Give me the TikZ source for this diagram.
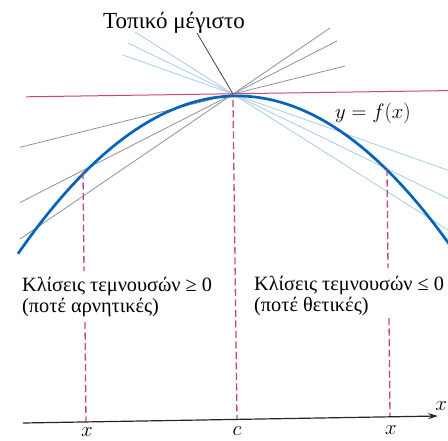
\documentclass[tikz,border=0pt]{standalone}
\usepackage{fontspec}
\setmainfont{Liberation Serif}
\usetikzlibrary{arrows.meta}
\definecolor{curveblue}{RGB}{5,100,185}
\definecolor{tanred}{RGB}{200,70,115}
\definecolor{dashred}{RGB}{195,70,120}
\definecolor{secgray}{RGB}{145,145,145}
\definecolor{secblue}{RGB}{165,205,232}
\begin{document}
\begin{tikzpicture}[x=1pt,y=-1pt,
  fcurve/.style={curveblue, line width=2.7pt},
  tangentline/.style={tanred, line width=1pt},
  secleft/.style={secgray, line width=0.8pt},
  secright/.style={secblue, line width=0.8pt},
  guide/.style={dashred, line width=1.3pt, dash pattern=on 7pt off 3.5pt},
  axisline/.style={black!85, line width=1.2pt, -{Stealth[length=10pt,width=6pt]}},
  leader/.style={black!75, line width=0.8pt},
  lbl/.style={font=\fontsize{20.3}{23}\selectfont, inner sep=0pt},
  titlelbl/.style={font=\fontsize{23}{26}\selectfont, inner sep=0pt}]
\useasboundingbox (0,0) rectangle (448,440);
\clip (0,0) rectangle (448,440);
% peak
\coordinate (P) at (233,94);
% secant lines from the left (gray)
\coordinate (G1a) at (20,147.3); \coordinate (G1b) at (345,66);
\coordinate (G2a) at (20,202.5); \coordinate (G2b) at (337,41);
\coordinate (G3a) at (20,239);   \coordinate (G3b) at (330,28);
\draw[secleft] (G1a) -- (G1b);
\draw[secleft] (G2a) -- (G2b);
\draw[secleft] (G3a) -- (G3b);
% secant lines from the right (light blue)
\coordinate (B1a) at (135,32); \coordinate (B1b) at (450,231.3);
\coordinate (B2a) at (128,43); \coordinate (B2b) at (450,199.4);
\coordinate (B3a) at (123,55); \coordinate (B3b) at (450,170.9);
\draw[secright] (B1a) -- (B1b);
\draw[secright] (B2a) -- (B2b);
\draw[secright] (B3a) -- (B3b);
% tangent at the maximum
\coordinate (T1) at (26,96.8); \coordinate (T2) at (448,90.6);
\draw[tangentline] (T1) -- (T2);
% curve
\draw[fcurve] plot[domain=18:452, samples=90, variable=\t]
  (\t, {96 + (0.05736*(\t-233))^2 - 0.0263*(\t-233)});
% dashed guides
\coordinate (L1) at (83,172); \coordinate (L2) at (84,271);
\coordinate (L3) at (85,322); \coordinate (L4) at (86,422);
\coordinate (C1) at (233,100); \coordinate (C2) at (237,419);
\coordinate (R1) at (387,169); \coordinate (R2) at (388,268);
\coordinate (R3) at (389,318); \coordinate (R4) at (390,416);
\draw[guide] (L1) -- (L2);
\draw[guide] (L3) -- (L4);
\draw[guide] (C1) -- (C2);
\draw[guide] (R1) -- (R2);
\draw[guide] (R3) -- (R4);
% axis
\coordinate (A1) at (23,423); \coordinate (A2) at (438,416);
\draw[axisline] (A1) -- (A2);
\node[lbl, anchor=base east] (axx) at (447,410) {$x$};
% labels
\node[titlelbl, anchor=base] (title) at (174,28) {Τοπικό μέγιστο};
\coordinate (lead) at (197,33);
\draw[leader] (lead) -- (P);
\node[lbl, font=\fontsize{21}{24}\selectfont, anchor=base west] (fx) at (335,118) {$y = f(x)$};
\node[lbl, anchor=base west] (sl1) at (22,291) {Κλίσεις τεμνουσών ≥ 0};
\node[lbl, anchor=base west] (sl2) at (22,312) {(ποτέ αρνητικές)};
\node[lbl, anchor=base west] (sr1) at (254,290) {Κλίσεις τεμνουσών ≤ 0};
\node[lbl, anchor=base west] (sr2) at (254,311) {(ποτέ θετικές)};
\node[lbl, anchor=base] (xl) at (87,436) {$x$};
\node[lbl, anchor=base] (cl) at (237,435) {$c$};
\node[lbl, anchor=base] (xr) at (391,434) {$x$};
\end{tikzpicture}
\end{document}
